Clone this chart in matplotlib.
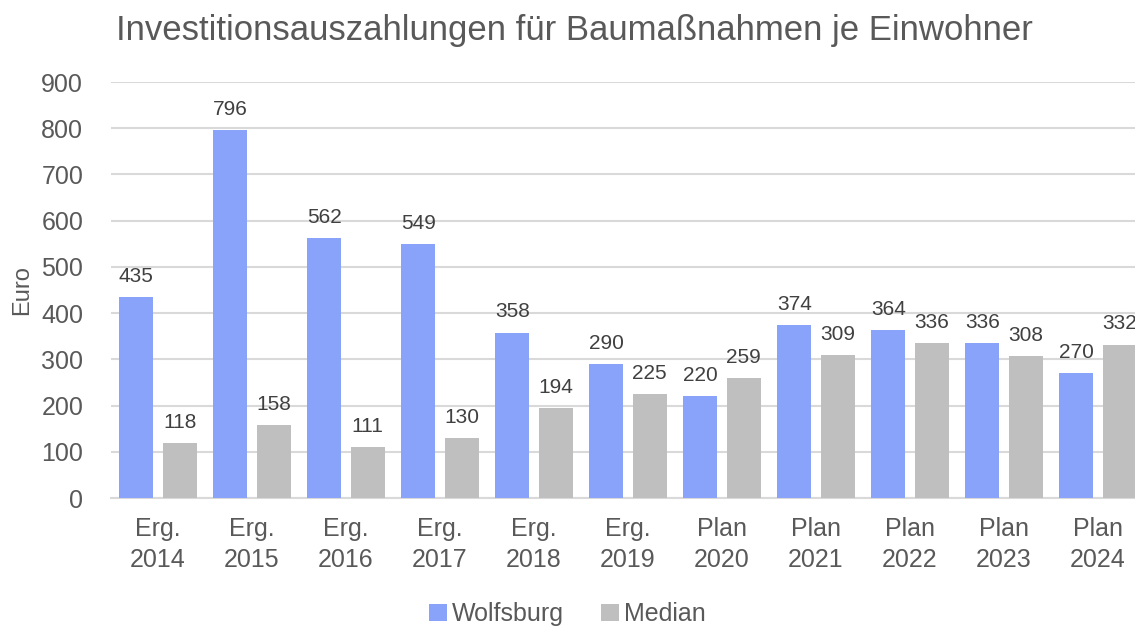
import numpy as np
import matplotlib.pyplot as plt

plt.rcParams['font.family'] = ['Liberation Sans', 'DejaVu Sans']

# Investment payments for construction per inhabitant (Euro)
categories = ["Erg.\n2014", "Erg.\n2015", "Erg.\n2016", "Erg.\n2017", "Erg.\n2018",
              "Erg.\n2019", "Plan\n2020", "Plan\n2021", "Plan\n2022", "Plan\n2023",
              "Plan\n2024"]
wolfsburg = [435, 796, 562, 549, 358, 290, 220, 374, 364, 336, 270]
median = [118, 158, 111, 130, 194, 225, 259, 309, 336, 308, 332]

BLUE = "#88A3F9"
GREY = "#BFBFBF"
TEXT = "#595959"

fig = plt.figure(figsize=(11.35, 6.28), dpi=100)
ax = fig.add_axes([0.0978, 0.207, 0.911, 0.6624])

x = np.arange(len(categories))
w = 0.36
b1 = ax.bar(x - 0.23, wolfsburg, w, color=BLUE, label="Wolfsburg", zorder=3)
b2 = ax.bar(x + 0.23, median, w, color=GREY, label="Median", zorder=3)

for bars in (b1, b2):
    for rect in bars:
        ax.annotate(f"{rect.get_height():.0f}",
                    (rect.get_x() + rect.get_width() / 2, rect.get_height()),
                    xytext=(0, 8), textcoords="offset points",
                    ha="center", va="bottom", fontsize=15, color="#404040",
                    annotation_clip=False)

ax.set_xlim(-0.5, len(categories) - 0.5)
ax.set_ylim(0, 900)
ax.set_yticks(range(0, 901, 100))
ax.set_xticks(x)
ax.set_xticklabels(categories, fontsize=18, color=TEXT, linespacing=1.35)
ax.tick_params(axis="y", labelsize=18, labelcolor=TEXT, length=0, pad=20)
ax.tick_params(axis="x", length=0, pad=14)

ax.grid(axis="y", color="#D9D9D9", linewidth=1.5, zorder=0)
for side in ("top", "right", "left"):
    ax.spines[side].set_visible(False)
ax.spines["bottom"].set_color("#D9D9D9")
ax.spines["bottom"].set_linewidth(1.5)

ax.set_ylabel("Euro", fontsize=17, color=TEXT, labelpad=6)
fig.text(0.102, 0.952, "Investitionsauszahlungen für Baumaßnahmen je Einwohner",
         fontsize=25, color=TEXT, ha="left", va="center")

fig.legend(loc="center", bbox_to_anchor=(0.5, 0.022), ncol=2, frameon=False,
           fontsize=18, labelcolor=TEXT, handlelength=0.7, handleheight=0.7,
           handletextpad=0.2, columnspacing=1.5)

fig.savefig("out.png", dpi=100)
